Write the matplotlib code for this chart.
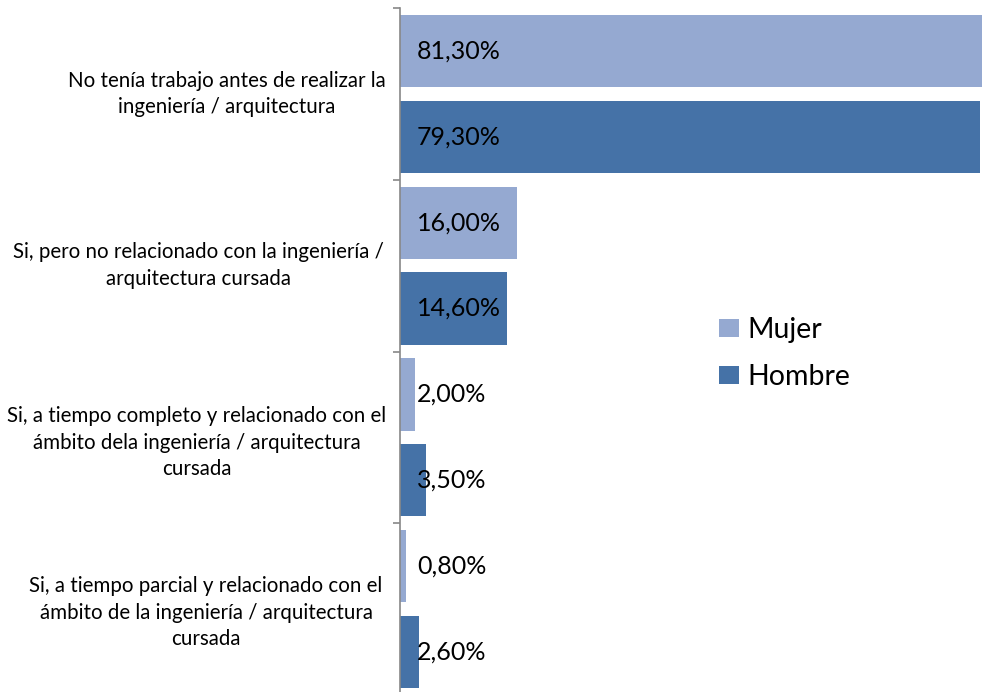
import matplotlib
matplotlib.use("Agg")
import matplotlib.pyplot as plt
import matplotlib.transforms as mtransforms
from matplotlib.patches import Patch

categories = [
    "No tenía trabajo antes de realizar la\ningeniería / arquitectura",
    "Si, pero no relacionado con la ingeniería /\narquitectura cursada",
    "Si, a tiempo completo y relacionado con el\námbito dela ingeniería / arquitectura\ncursada",
    "Si, a tiempo parcial y relacionado con el\námbito de la ingeniería / arquitectura\ncursada",
]
mujer = [81.3, 16.0, 2.0, 0.8]
hombre = [79.3, 14.6, 3.5, 2.6]
mujer_labels = ["81,30%", "16,00%", "2,00%", "0,80%"]
hombre_labels = ["79,30%", "14,60%", "3,50%", "2,60%"]

FONT = ["Lato", "DejaVu Sans"]
plt.rcParams["font.family"] = FONT

c_mujer = "#95A9D1"
c_hombre = "#4572A7"

fig = plt.figure(figsize=(9.82, 6.92), dpi=100)
ax = fig.add_axes([400 / 982, -3 / 692, 731.4 / 982, 687 / 692])

ys = list(range(len(categories)))
h = 0.42
ax.barh([y - 0.25 for y in ys], mujer, height=h, color=c_mujer, label="Mujer")
ax.barh([y + 0.25 for y in ys], hombre, height=h, color=c_hombre, label="Hombre")

ax.set_xlim(0, 100)
ax.set_ylim(3.5, -0.5)

for y, lab in zip(ys, mujer_labels):
    ax.text(2.3, y - 0.25, lab, va="center", ha="left", fontsize=18, color="black")
for y, lab in zip(ys, hombre_labels):
    ax.text(2.3, y + 0.25, lab, va="center", ha="left", fontsize=18, color="black")

for s in ["top", "right", "bottom"]:
    ax.spines[s].set_visible(False)
ax.spines["left"].set_color("#888888")
ax.spines["left"].set_linewidth(1.2)
ax.set_xticks([])
ax.set_yticks([-0.5, 0.5, 1.5, 2.5, 3.5])
ax.set_yticklabels([])
ax.tick_params(axis="y", direction="out", length=5, color="#888888", width=1.2)

trans = mtransforms.blended_transform_factory(fig.transFigure, ax.transData)
centers_px = [227, 198, 197, 206]
y_off = [0, 0, 0.03, 0.02]
for y, lab, cx, dy in zip(ys, categories, centers_px, y_off):
    fig.text(cx / 982, y + dy, lab, transform=trans, ha="center", va="center",
             fontsize=14.8, linespacing=1.4, multialignment="center")

handles = [Patch(facecolor=c_mujer), Patch(facecolor=c_hombre)]
fig.legend(handles, ["Mujer", "Hombre"], loc="upper left",
           bbox_to_anchor=(696 / 982, 1 - 294 / 692), frameon=False,
           fontsize=20.5, handlelength=0.72, handleheight=0.62, handletextpad=0.28,
           labelspacing=0.75, borderpad=0.3)

fig.savefig("out.png", dpi=100)
